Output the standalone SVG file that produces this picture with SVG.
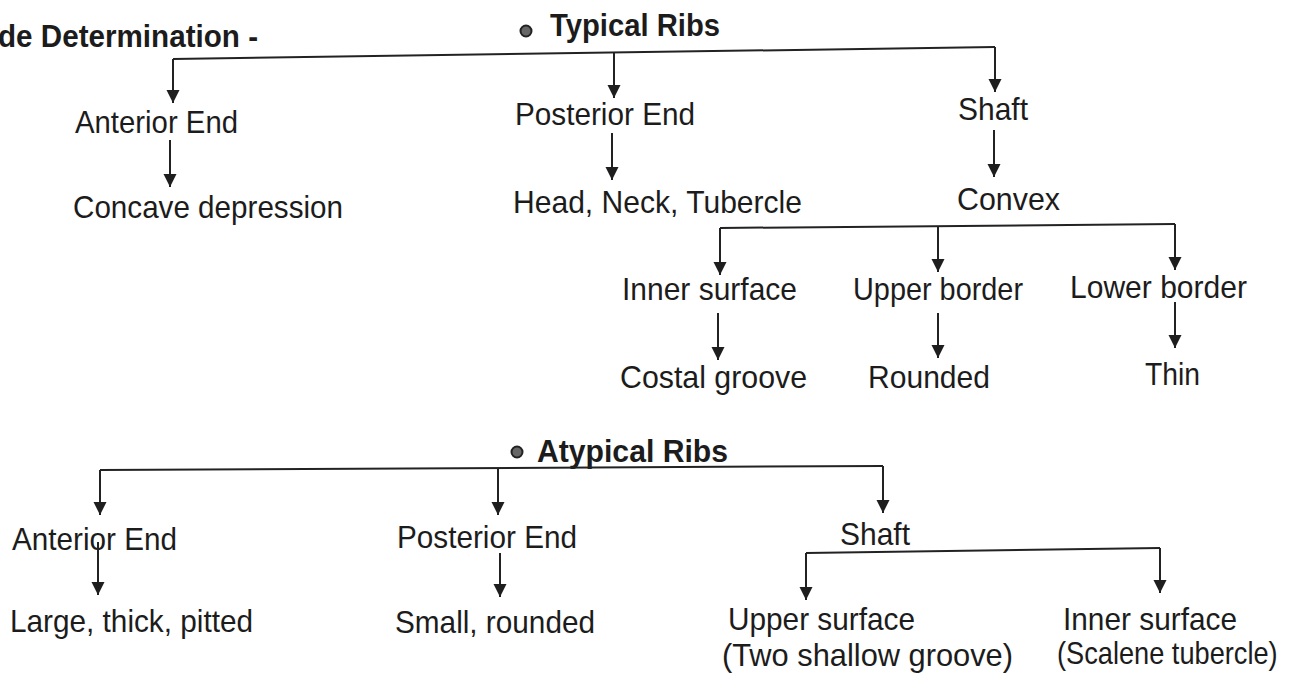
<svg xmlns="http://www.w3.org/2000/svg" width="1295" height="683" viewBox="0 0 1295 683">
<defs>
<marker id="ah" markerUnits="userSpaceOnUse" markerWidth="14" markerHeight="14" refX="13" refY="6.5" orient="auto" viewBox="0 0 14 13">
<path d="M0,0 L13,6.5 L0,13 z" fill="#1e1e1e"/>
</marker>
<style>
text{font-family:"Liberation Sans",Arial,Helvetica,sans-serif;font-size:32px;fill:#1c1c1c}
.b{font-weight:bold;font-size:31px}
.ln{fill:none;stroke:#222;stroke-width:2}
.ar{fill:none;stroke:#222;stroke-width:2;marker-end:url(#ah)}
.dot{fill:#666;stroke:#222;stroke-width:2}
</style>
</defs>
<rect width="1295" height="683" fill="#ffffff"/>
<g id="title"><text class="b" x="-2" y="47" textLength="260" lengthAdjust="spacingAndGlyphs">de Determination -</text></g>
<g id="typical"><circle class="dot" cx="526" cy="31" r="5.5"/><text class="b" x="550" y="36" textLength="170" lengthAdjust="spacingAndGlyphs">Typical Ribs</text></g>
<g id="t-ant"><text x="75" y="133" textLength="163" lengthAdjust="spacingAndGlyphs">Anterior End</text></g>
<g id="t-ant-c"><text x="73" y="218" textLength="270" lengthAdjust="spacingAndGlyphs">Concave depression</text></g>
<g id="t-post"><text x="515" y="125" textLength="180" lengthAdjust="spacingAndGlyphs">Posterior End</text></g>
<g id="t-post-c"><text x="513" y="213" textLength="289" lengthAdjust="spacingAndGlyphs">Head, Neck, Tubercle</text></g>
<g id="t-shaft"><text x="958" y="120" textLength="70" lengthAdjust="spacingAndGlyphs">Shaft</text></g>
<g id="t-convex"><text x="957" y="210" textLength="103" lengthAdjust="spacingAndGlyphs">Convex</text></g>
<g id="t-inner"><text x="622" y="300" textLength="175" lengthAdjust="spacingAndGlyphs">Inner surface</text></g>
<g id="t-upper"><text x="853" y="300" textLength="170" lengthAdjust="spacingAndGlyphs">Upper border</text></g>
<g id="t-lower"><text x="1070" y="298" textLength="177" lengthAdjust="spacingAndGlyphs">Lower border</text></g>
<g id="t-costal"><text x="620" y="388" textLength="187" lengthAdjust="spacingAndGlyphs">Costal groove</text></g>
<g id="t-rounded"><text x="868" y="388" textLength="122" lengthAdjust="spacingAndGlyphs">Rounded</text></g>
<g id="t-thin"><text x="1145" y="385" textLength="55" lengthAdjust="spacingAndGlyphs">Thin</text></g>
<g id="atypical"><circle class="dot" cx="517" cy="452" r="5.5"/><text class="b" x="537" y="462" textLength="191" lengthAdjust="spacingAndGlyphs">Atypical Ribs</text></g>
<g id="a-ant"><text x="12" y="550" textLength="165" lengthAdjust="spacingAndGlyphs">Anterior End</text></g>
<g id="a-ant-c"><text x="10" y="632" textLength="243" lengthAdjust="spacingAndGlyphs">Large, thick, pitted</text></g>
<g id="a-post"><text x="397" y="548" textLength="180" lengthAdjust="spacingAndGlyphs">Posterior End</text></g>
<g id="a-post-c"><text x="395" y="633" textLength="200" lengthAdjust="spacingAndGlyphs">Small, rounded</text></g>
<g id="a-shaft"><text x="840" y="545" textLength="70" lengthAdjust="spacingAndGlyphs">Shaft</text></g>
<g id="a-upper"><text x="728" y="630" textLength="187" lengthAdjust="spacingAndGlyphs">Upper surface</text><text x="722" y="666" textLength="291" lengthAdjust="spacingAndGlyphs">(Two shallow groove)</text></g>
<g id="a-inner"><text x="1063" y="630" textLength="174" lengthAdjust="spacingAndGlyphs">Inner surface</text><text transform="translate(1057,664) scale(0.85,1)" x="0" y="0">(Scalene tubercle)</text></g>
<g id="connectors">
<path class="ln" d="M173,59 L995,47"/>
<path class="ar" d="M173,59 V103"/>
<path class="ar" d="M614,53 V98"/>
<path class="ar" d="M995,47 V92"/>
<path class="ar" d="M170,140 V187"/>
<path class="ar" d="M612,133 V180"/>
<path class="ar" d="M994,130 V177"/>
<path class="ln" d="M720,228 L1175,224"/>
<path class="ar" d="M720,228 V275"/>
<path class="ar" d="M938,226 V272"/>
<path class="ar" d="M1175,224 V270"/>
<path class="ar" d="M718,313 V360"/>
<path class="ar" d="M938,313 V358"/>
<path class="ar" d="M1175,302 V348"/>
<path class="ln" d="M100,470 L883,466"/>
<path class="ar" d="M100,470 V515"/>
<path class="ar" d="M498,468 V515"/>
<path class="ar" d="M883,466 V513"/>
<path class="ar" d="M98,542 V595"/>
<path class="ar" d="M500,553 V597"/>
<path class="ln" d="M806,553 L1160,548"/>
<path class="ar" d="M806,553 V600"/>
<path class="ar" d="M1160,548 V593"/>
</g>
</svg>
